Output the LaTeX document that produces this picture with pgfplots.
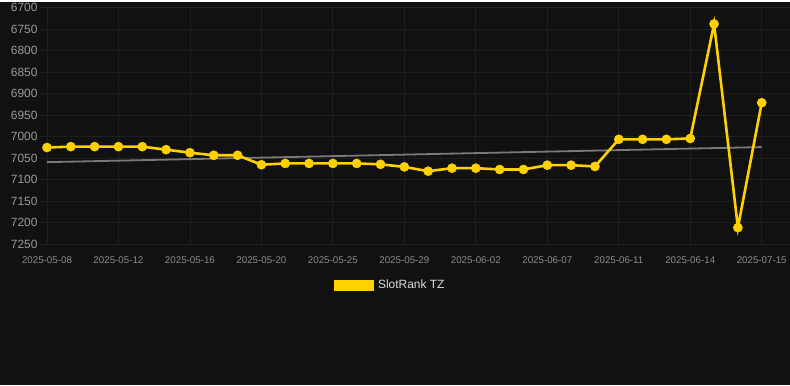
\documentclass[border=0pt]{standalone}
\usepackage{pgfplots}
\pgfplotsset{compat=1.18}
\usepackage{fontspec}
\setmainfont{Liberation Sans}
\definecolor{bg}{HTML}{111111}
\definecolor{gridc}{HTML}{1F1F1F}
\definecolor{ticky}{HTML}{9A9A9A}
\definecolor{tickx}{HTML}{8C8C8C}
\definecolor{gold}{HTML}{FFD100}
\definecolor{trend}{HTML}{7A7A7A}
\definecolor{legtxt}{HTML}{DDDDDD}
\begin{document}
\begin{tikzpicture}[x=1bp,y=1bp]
\fill[bg] (0,0) rectangle (790,384);
\begin{axis}[
  at={(40bp,141bp)}, anchor=south west,
  scale only axis, width=750bp, height=237bp,
  xmin=-0.294, xmax=31.17,
  ymin=6700, ymax=7250, y dir=reverse,
  axis line style={draw=none},
  xtick={0,3,6,9,12,15,18,21,24,27,30},
  xticklabels={2025-05-08,2025-05-12,2025-05-16,2025-05-20,2025-05-25,2025-05-29,2025-06-02,2025-06-07,2025-06-11,2025-06-14,2025-07-15},
  ytick={6700,6750,...,7250},
  grid=major, major grid style={gridc, line width=0.8bp},
  tick style={draw=none},
  /pgf/number format/assume math mode=true,
  /pgf/number format/1000 sep={},
  yticklabel style={font=\fontsize{12}{12}\selectfont, text=ticky, xshift=1bp},
  xticklabel style={font=\fontsize{9.8}{10}\selectfont, text=tickx, yshift=-9bp},
  clip=false,
  legend style={at={(0.467,-0.173)}, anchor=center, draw=none, fill=none,
    font=\fontsize{12}{12}\selectfont, text=legtxt},
  legend cell align=left,
]
\addlegendimage{legend image code/.code={\fill[gold] (-4bp,-5bp) rectangle (35bp,5bp);}}
\addlegendentry{\hspace{3bp}SlotRank TZ}
\addplot[trend, line width=1.8bp, forget plot] coordinates {(0,7059) (30,7024)};
\addplot[gold, line width=2.6bp, mark=*, mark size=4.6bp, mark options={fill=gold, draw=gold, line width=0.4bp, line join=round, solid}, forget plot] coordinates {
(0,7025) (1,7023) (2,7023) (3,7023) (4,7023) (5,7030) (6,7037) (7,7043) (8,7043)
(9,7065) (10,7062) (11,7062) (12,7062) (13,7062) (14,7064) (15,7070) (16,7080)
(17,7073) (18,7073) (19,7076) (20,7076) (21,7066) (22,7066) (23,7069)
(24,7006) (25,7006) (26,7006) (27,7004) (28,6738) (29,7211) (30,6921)
};
\end{axis}
\end{tikzpicture}
\end{document}
